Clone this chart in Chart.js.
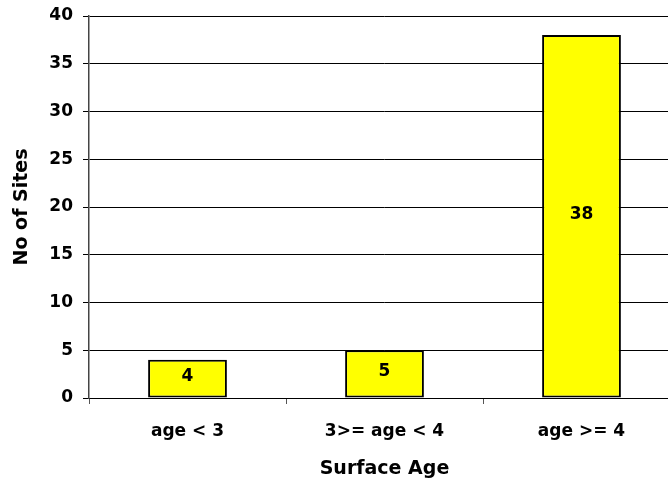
<!DOCTYPE html>
<html lang="en">
<head>
  <meta charset="UTF-8" />
  <title>Surface Age</title>
  <script src="https://cdn.jsdelivr.net/npm/chart.js"></script>
  <style>
    html, body {
      margin: 0;
      padding: 0;
      background: #ffffff;
      overflow: hidden;
    }
  </style>
</head>
<body>
  <canvas id="ageChart" width="680" height="487"></canvas>

  <script>
    const categories = ["age < 3", "3>= age < 4", "age >= 4"];
    const siteCounts = [4, 5, 38];
    const yTicks = [0, 5, 10, 15, 20, 25, 30, 35, 40];

    const fontFamily = "'DejaVu Sans', Verdana, sans-serif";
    const tickFont = { family: fontFamily, size: 17, weight: "bold" };
    const titleFont = { family: fontFamily, size: 19, weight: "bold" };

    // value labels drawn in the middle of each bar
    const barLabels = {
      id: "barLabels",
      afterDatasetsDraw(chart) {
        const ctx = chart.ctx;
        const meta = chart.getDatasetMeta(0);
        ctx.save();
        ctx.font = "bold 17px " + fontFamily;
        ctx.fillStyle = "#000";
        ctx.textAlign = "center";
        ctx.textBaseline = "middle";
        meta.data.forEach((bar, i) => {
          const mid = (bar.y + bar.base) / 2 - 2;
          ctx.fillText(String(siteCounts[i]), bar.x, mid);
        });
        ctx.restore();
      }
    };

    new Chart(document.getElementById("ageChart"), {
      type: "bar",
      data: {
        labels: categories,
        datasets: [{
          label: "No of Sites",
          data: siteCounts,
          backgroundColor: "#ffff00",
          borderColor: "#000000",
          borderWidth: 2,
          borderSkipped: false,
          categoryPercentage: 1.0,
          barPercentage: 0.4
        }]
      },
      options: {
        responsive: false,
        animation: false,
        layout: { padding: { top: 16, right: 0, left: 0, bottom: 0 } },
        plugins: {
          legend: { display: false },
          tooltip: { enabled: false },
          title: { display: false }
        },
        scales: {
          x: {
            grid: {
              offset: true,
              drawOnChartArea: false,
              drawTicks: true,
              tickLength: 6,
              color: "#555"
            },
            border: { color: "#000", width: 1 },
            ticks: { color: "#000", font: tickFont, padding: 17, maxRotation: 0 },
            title: {
              display: true,
              text: "Surface Age",
              color: "#000",
              font: titleFont,
              padding: { top: 0, bottom: 7 }
            },
            afterFit(scale) { scale.height = 89; }
          },
          y: {
            min: 0,
            max: 40,
            afterBuildTicks(scale) { scale.ticks = yTicks.map(v => ({ value: v })); },
            grid: { color: "#000", tickLength: 6, lineWidth: 1 },
            border: { color: "#444", width: 1.5 },
            ticks: { color: "#000", font: tickFont, padding: 10 },
            title: {
              display: true,
              text: "No of Sites",
              color: "#000",
              font: titleFont,
              padding: { top: 11, bottom: 0 }
            },
            afterFit(scale) {
              scale.width = 89;
              scale.paddingTop = 0;
            }
          }
        }
      },
      plugins: [barLabels]
    });
  </script>
</body>
</html>
